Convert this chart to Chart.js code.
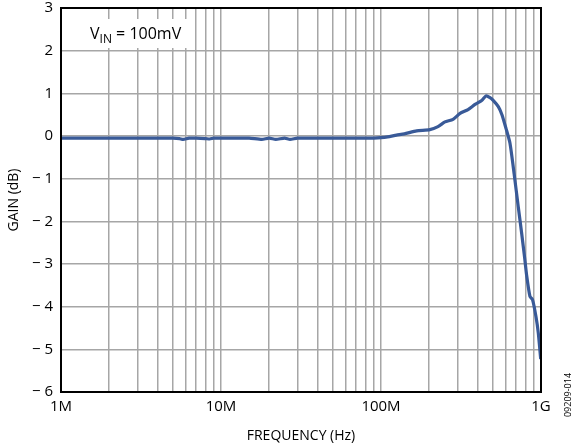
<!DOCTYPE html>
<html>
<head>
<meta charset="utf-8">
<script src="https://cdn.jsdelivr.net/npm/chart.js@4/dist/chart.umd.min.js"></script>
<style>
  html, body { margin: 0; padding: 0; background: #fff; }
  #wrap { width: 586px; height: 448px; position: relative; }
</style>
</head>
<body>
<div id="wrap"><canvas id="myChart" width="586" height="448"></canvas></div>
<script>
// frequency in Hz, gain in dB
const freqMHz = [1, 1.5, 2, 3, 4, 5, 5.5, 5.8, 6.3, 7, 8, 8.5, 9, 10, 12, 15, 18, 20, 22, 25, 27, 30, 40, 50, 60, 70, 80, 90, 100,
  110, 125, 140, 167, 202, 227, 251, 282, 312, 350, 387, 426, 453, 480, 504, 541, 570, 604, 640, 680, 721, 757, 790, 813, 853, 886, 930, 962, 996];
const gainDb = [-0.05, -0.05, -0.05, -0.05, -0.05, -0.05, -0.06, -0.08, -0.05, -0.05, -0.06, -0.07, -0.05, -0.05, -0.05, -0.05, -0.08, -0.05, -0.08, -0.05, -0.08, -0.05, -0.05, -0.05, -0.05, -0.05, -0.05, -0.05, -0.04,
  -0.02, 0.02, 0.05, 0.12, 0.15, 0.22, 0.33, 0.39, 0.53, 0.62, 0.74, 0.83, 0.94, 0.9, 0.83, 0.69, 0.5, 0.18, -0.17, -0.9, -1.66, -2.28, -2.85, -3.26, -3.76, -3.84, -4.23, -4.62, -5.23];
const xTickLabels = { 1e6: "1M", 1e7: "10M", 1e8: "100M", 1e9: "1G" };
const yTicks = [-6, -5, -4, -3, -2, -1, 0, 1, 2, 3];

const points = freqMHz.map((f, i) => ({ x: f * 1e6, y: gainDb[i] }));

const extras = {
  id: "extras",
  afterDraw(chart) {
    const ctx = chart.ctx;
    const a = chart.chartArea;
    ctx.save();
    // frame
    ctx.strokeStyle = "#000";
    ctx.lineWidth = 2;
    ctx.strokeRect(a.left, a.top, a.right - a.left, a.bottom - a.top);
    // label box
    ctx.fillStyle = "#fff";
    ctx.fillRect(80, 19, 114, 29);
    ctx.fillStyle = "#000";
    ctx.font = "16px 'Open Sans', sans-serif";
    ctx.textBaseline = "alphabetic";
    ctx.fillText("V", 90, 39);
    let w = ctx.measureText("V").width;
    ctx.font = "12px 'Open Sans', sans-serif";
    ctx.fillText("IN", 90 + w, 43);
    let w2 = ctx.measureText("IN").width;
    ctx.font = "16px 'Open Sans', sans-serif";
    ctx.fillText(" = 100mV", 90 + w + w2, 39);
    // figure id
    ctx.translate(571, 395);
    ctx.rotate(-Math.PI / 2);
    ctx.font = "9px 'Open Sans', sans-serif";
    ctx.textAlign = "center";
    ctx.fillText("09209-014", 0, 0);
    ctx.restore();
  }
};

new Chart(document.getElementById("myChart"), {
  type: "line",
  data: {
    datasets: [{
      data: points,
      borderColor: "#395a98",
      borderWidth: 3.2,
      pointRadius: 0,
      tension: 0.2,
      fill: false
    }]
  },
  options: {
    responsive: false,
    animation: false,
    layout: { padding: { left: 0, top: 8, right: 45, bottom: 0 } },
    plugins: { legend: { display: false }, tooltip: { enabled: false } },
    scales: {
      x: {
        type: "logarithmic",
        min: 1e6,
        max: 1e9,
        afterFit(scale) { scale.height = 56; },
        afterBuildTicks(scale) {
          const t = [];
          for (let d = 1e6; d < 1e9; d *= 10) {
            for (let m = 1; m < 10; m++) t.push({ value: m * d });
          }
          t.push({ value: 1e9 });
          scale.ticks = t;
        },
        grid: { color: "#a6a6a6", lineWidth: 1.5, drawTicks: false },
        border: { color: "#000", width: 2 },
        ticks: {
          autoSkip: false,
          maxRotation: 0,
          padding: 6,
          color: "#000",
          font: { family: "'Open Sans', sans-serif", size: 15 },
          callback: (v) => xTickLabels[v] || ""
        },
        title: {
          display: true,
          text: "FREQUENCY (Hz)",
          color: "#000",
          font: { family: "'Open Sans', sans-serif", size: 14 },
          padding: { top: 0, bottom: 4 }
        }
      },
      y: {
        min: -6,
        max: 3,
        afterFit(scale) { scale.width = 61; scale.paddingTop = 0; scale.paddingBottom = 0; },
        afterBuildTicks(scale) { scale.ticks = yTicks.map(v => ({ value: v })); },
        grid: { color: "#a6a6a6", lineWidth: 1.5, drawTicks: false },
        border: { color: "#000", width: 2 },
        ticks: {
          padding: 8,
          color: "#000",
          font: { family: "'Open Sans', sans-serif", size: 15 },
          callback: (v) => v < 0 ? "\u2212 " + Math.abs(v) : String(v)
        },
        title: {
          display: true,
          text: "GAIN (dB)",
          color: "#000",
          font: { family: "'Open Sans', sans-serif", size: 14 },
          padding: { top: 6, bottom: 0 }
        }
      }
    }
  },
  plugins: [extras]
});
</script>
</body>
</html>
